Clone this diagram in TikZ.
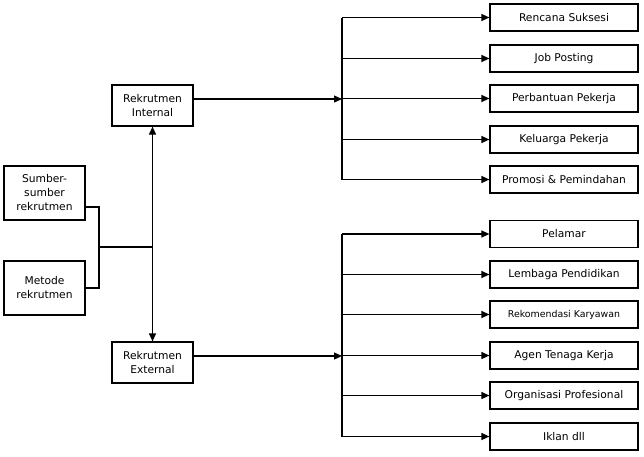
\documentclass[tikz,border=0pt]{standalone}
\usepackage{fontspec}
\setmainfont{DejaVu Sans}
\usetikzlibrary{arrows.meta,calc}
\begin{document}
\begin{tikzpicture}[x=1pt,y=-1pt,
  box/.style={draw,line width=1.2pt,rectangle,inner sep=1pt,align=center,font=\fontsize{10.7}{14}\selectfont},
  rbox/.style={box,minimum width=148pt,minimum height=27pt},
  lbox/.style={box,minimum width=81pt,minimum height=54pt},
  mbox/.style={box,minimum width=81pt,minimum height=41pt},
  conn/.style={line width=1.2pt},
  arr/.style={conn,-{Triangle[length=8pt,width=7pt]}},
  darr/.style={conn,{Triangle[length=8pt,width=7pt]}-{Triangle[length=8pt,width=7pt]}}]
\useasboundingbox (0,0) rectangle (644,456);
% left
\node[lbox] (src) at (44.5,193) {Sumber-\\sumber\\rekrutmen};
\node[lbox] (met) at (44.5,288) {Metode\\rekrutmen};
\node[mbox] (int) at (152.5,105.5) {Rekrutmen\\Internal};
\node[mbox] (ext) at (152.5,362.5) {Rekrutmen\\External};
% right internal
\node[rbox] (i1) at (564,17.5) {Rencana Suksesi};
\node[rbox] (i2) at (564,58.5) {Job Posting};
\node[rbox] (i3) at (564,98.5) {Perbantuan Pekerja};
\node[rbox] (i4) at (564,139.5) {Keluarga Pekerja};
\node[rbox] (i5) at (564,179.5) {Promosi \& Pemindahan};
% right external
\node[rbox] (e1) at (564,234) {Pelamar};
\node[rbox] (e2) at (564,274.5) {Lembaga Pendidikan};
\node[rbox,font=\fontsize{9.4}{11}\selectfont] (e3) at (564,314.5) {Rekomendasi Karyawan};
\node[rbox] (e4) at (564,355.5) {Agen Tenaga Kerja};
\node[rbox] (e5) at (564,395.5) {Organisasi Profesional};
\node[rbox] (e6) at (564,436.5) {Iklan dll};
% left connectors
\coordinate (s1) at ($(src.east)+(0,14)$);
\coordinate (j) at (99,247);
\draw[conn] (s1) -| (j) |- (met.east);
\draw[conn] (j) -- (int.south |- j);
\draw[darr] (int.south) -- (ext.north);
% internal bus
\coordinate (bi) at (342,99);
\draw[arr] ($(int.east)+(0,-6.5)$) -- (bi);
\draw[conn] (i1.west -| bi) -- (i5.west -| bi);
\foreach \n in {i1,i2,i3,i4,i5} \draw[arr] (\n.west -| bi) -- (\n.west);
% external bus
\coordinate (be) at (342,356);
\draw[arr] ($(ext.east)+(0,-6.5)$) -- (be);
\draw[conn] (e1.west -| be) -- (e6.west -| be);
\foreach \n in {e1,e2,e3,e4,e5,e6} \draw[arr] (\n.west -| be) -- (\n.west);
\end{tikzpicture}
\end{document}
